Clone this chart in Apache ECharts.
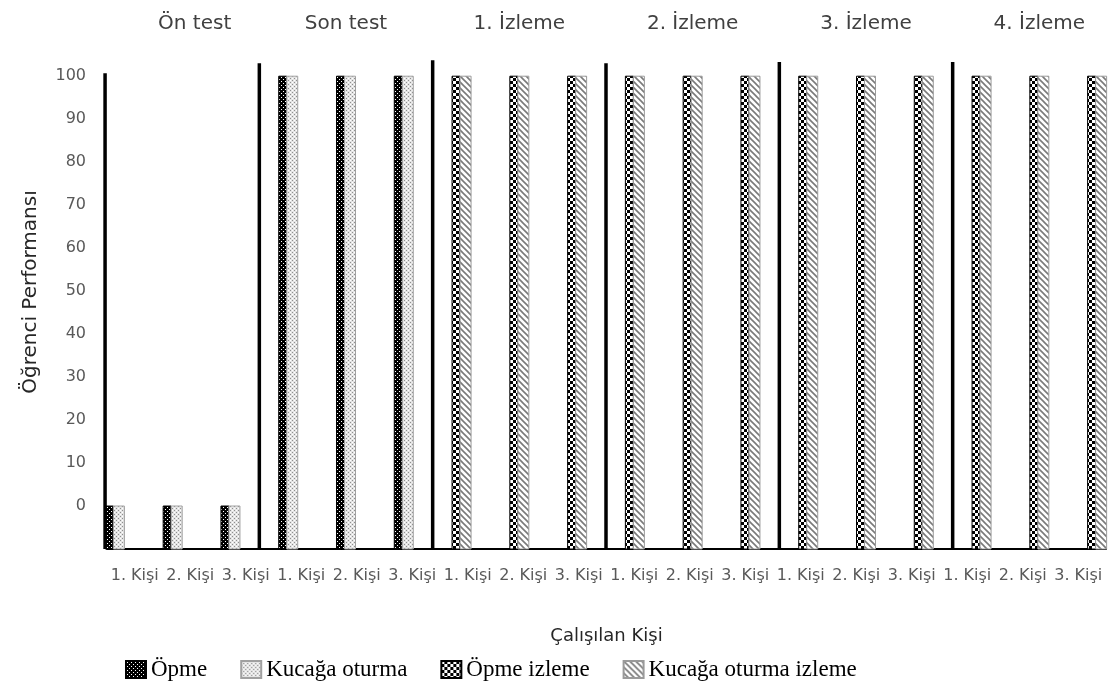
<!DOCTYPE html>
<html>
<head>
<meta charset="utf-8">
<script src="https://cdn.jsdelivr.net/npm/echarts@6/dist/echarts.min.js"></script>
<style>
html,body{margin:0;padding:0;background:#fff;}
#chart{width:1111px;height:691px;}
</style>
</head>
<body>
<div id="chart"></div>
<script>
// ---- data ----
var persons = ['1. Kişi','2. Kişi','3. Kişi','1. Kişi','2. Kişi','3. Kişi','1. Kişi','2. Kişi','3. Kişi',
               '1. Kişi','2. Kişi','3. Kişi','1. Kişi','2. Kişi','3. Kişi','1. Kişi','2. Kişi','3. Kişi'];
var phases = ['Ön test','Son test','1. İzleme','2. İzleme','3. İzleme','4. İzleme'];
var opme         = [0,0,0,100,100,100,null,null,null,null,null,null,null,null,null,null,null,null];
var kucaga       = [0,0,0,100,100,100,null,null,null,null,null,null,null,null,null,null,null,null];
var opmeIzleme   = [null,null,null,null,null,null,100,100,100,100,100,100,100,100,100,100,100,100];
var kucagaIzleme = [null,null,null,null,null,null,100,100,100,100,100,100,100,100,100,100,100,100];
// phase divider lines: position on 0..18 category scale, top value
var dividerX   = [0.33, 3, 6, 9, 12, 15];
var dividerTop = [100.7, 103, 103.7, 103, 103.3, 103.3];
var yTicks = [0,10,20,30,40,50,60,70,80,90,100];

// ---- patterns ----
function makePattern(size, draw){
  var c = document.createElement('canvas');
  c.width = size; c.height = size;
  var ctx = c.getContext('2d');
  draw(ctx, size);
  return {image: c, repeat: 'repeat'};
}
var pOpme = makePattern(4, function(ctx,s){
  ctx.fillStyle='#000'; ctx.fillRect(0,0,s,s);
  ctx.fillStyle='#fff'; ctx.fillRect(1,1,1,1); ctx.fillRect(3,3,1,1);
});
var pKucaga = makePattern(4, function(ctx,s){
  ctx.fillStyle='#e4e4e4'; ctx.fillRect(0,0,s,s);
  ctx.fillStyle='#8f8f8f'; ctx.fillRect(0,0,1,1); ctx.fillRect(2,2,1,1);
  ctx.fillStyle='#ffffff'; ctx.fillRect(2,0,1,1); ctx.fillRect(0,2,1,1);
});
var pOpmeIz = makePattern(6, function(ctx,s){
  ctx.fillStyle='#000'; ctx.fillRect(0,0,s,s);
  ctx.fillStyle='#fff'; ctx.fillRect(0,0,3,3); ctx.fillRect(3,3,3,3);
});
var pKucagaIz = makePattern(6, function(ctx,s){
  ctx.fillStyle='#fff'; ctx.fillRect(0,0,s,s);
  ctx.strokeStyle='#7a7a7a'; ctx.lineWidth=1.6;
  ctx.beginPath();
  ctx.moveTo(-1,-1); ctx.lineTo(7,7);
  ctx.moveTo(-1,5); ctx.lineTo(1,7);
  ctx.moveTo(5,-1); ctx.lineTo(7,1);
  ctx.stroke();
});

var Y_MIN = -10, Y_MAX = 104;

function toPairs(arr){
  var out = [];
  arr.forEach(function(v,i){ if(v !== null) out.push([i, v]); });
  return out;
}
function barRender(offset, width, fill, stroke){
  return function(params, api){
    var top = api.coord([api.value(0), api.value(1)]);
    var base = api.coord([api.value(0), Y_MIN]);
    return {
      type: 'rect',
      shape: {x: top[0] + offset, y: top[1], width: width, height: base[1] - top[1]},
      style: {fill: fill, stroke: stroke, lineWidth: 1}
    };
  };
}
function barSeries(name, arr, offset, width, fill, stroke){
  return {
    name: name, type: 'custom', coordinateSystem: 'cartesian2d',
    xAxisIndex: 0, yAxisIndex: 0,
    itemStyle: {color: fill, borderColor: stroke, borderWidth: 1},
    renderItem: barRender(offset, width, fill, stroke),
    encode: {x: 0, y: 1},
    data: toPairs(arr),
    z: 3
  };
}

var chart = echarts.init(document.getElementById('chart'), null, {renderer: 'canvas'});
var fontMain = 'DejaVu Sans';
chart.setOption({
  animation: false,
  backgroundColor: '#ffffff',
  grid: [
    {left: 86, width: 1040, top: 59, bottom: 142, outerBoundsMode: 'none', containLabel: false},
    {left: 107, right: 5, top: 59, bottom: 142, outerBoundsMode: 'none', containLabel: false}
  ],
  xAxis: [
    {type: 'category', gridIndex: 0, data: persons, show: false, axisLine: {onZero: false}},
    {type: 'value', gridIndex: 0, min: 0, max: 18, show: false, axisLine: {onZero: false}},
    {type: 'category', gridIndex: 0, data: phases, position: 'top',
      axisLine: {show: false, onZero: false}, axisTick: {show: false}, splitLine: {show: false},
      axisLabel: {margin: 25, fontFamily: fontMain, fontSize: 20, color: '#404040', interval: 0,
        formatter: function(v, i){ return i === 0 ? '{s|' + v + '}' : v; },
        rich: {s: {fontFamily: fontMain, fontSize: 20, color: '#404040', padding: [0,0,0,44]}}}},
    {type: 'category', gridIndex: 1, data: persons, position: 'bottom',
      axisLine: {show: true, onZero: false, lineStyle: {color: '#000', width: 2}},
      axisTick: {show: false},
      axisLabel: {interval: 0, margin: 19, fontFamily: fontMain, fontSize: 16, color: '#595959'},
      name: 'Çalışılan Kişi', nameLocation: 'middle', nameGap: 78,
      nameTextStyle: {fontFamily: fontMain, fontSize: 18, color: '#262626'}}
  ],
  yAxis: [
    {type: 'value', gridIndex: 0, min: Y_MIN, max: Y_MAX, interval: 10, show: false},
    {type: 'value', gridIndex: 1, min: Y_MIN, max: Y_MAX, interval: 10,
      axisLine: {show: false}, axisTick: {show: false}, splitLine: {show: false},
      axisLabel: {margin: 21, fontFamily: fontMain, fontSize: 16, color: '#595959',
        formatter: function(v){ return yTicks.indexOf(v) >= 0 ? String(v) : ''; }},
      name: 'Öğrenci Performansı', nameLocation: 'middle', nameGap: 66, nameRotate: 90,
      nameTextStyle: {fontFamily: fontMain, fontSize: 20, color: '#262626', padding: [0,0,0,24]}}
  ],
  legend: {
    left: 120, top: 653, itemWidth: 20, itemHeight: 17, itemGap: 33,
    icon: 'rect',
    textStyle: {fontFamily: 'Liberation Serif', fontSize: 23, color: '#000'},
    data: ['Öpme','Kucağa oturma','Öpme izleme','Kucağa oturma izleme']
  },
  series: [
    barSeries('Öpme', opme, -9.5, 8, pOpme, '#000'),
    barSeries('Kucağa oturma', kucaga, -1.5, 11, pKucaga, '#a0a0a0'),
    barSeries('Öpme izleme', opmeIzleme, -9.5, 8, pOpmeIz, '#000'),
    barSeries('Kucağa oturma izleme', kucagaIzleme, -1.5, 11, pKucagaIz, '#9a9a9a'),
    {
      name: 'dividers', type: 'custom', coordinateSystem: 'cartesian2d',
      xAxisIndex: 1, yAxisIndex: 0, z: 4,
      encode: {x: 0, y: 1},
      data: dividerX.map(function(x, i){ return [x, dividerTop[i]]; }),
      renderItem: function(params, api){
        var top = api.coord([api.value(0), api.value(1)]);
        var base = api.coord([api.value(0), Y_MIN]);
        return {type: 'line', shape: {x1: top[0], y1: top[1], x2: base[0], y2: base[1]},
          style: {stroke: '#000', lineWidth: 3.5}};
      }
    }
  ]
});
</script>
</body>
</html>
